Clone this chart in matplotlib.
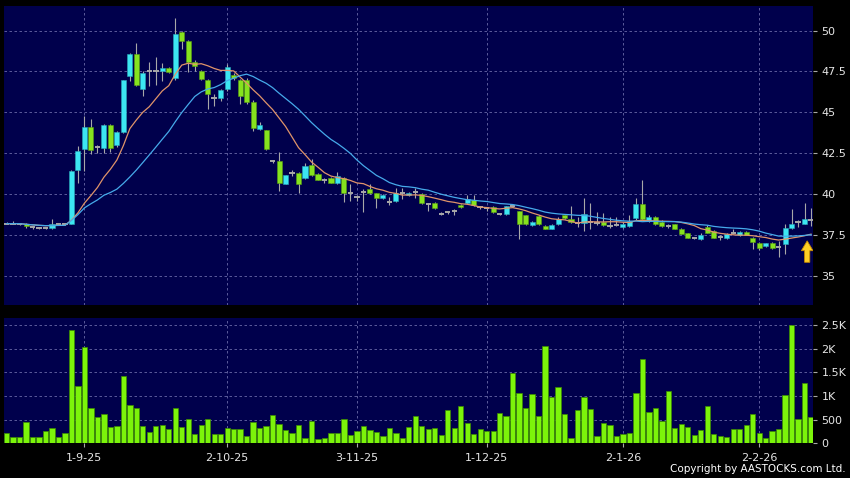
import numpy as np
import pandas as pd
import matplotlib
matplotlib.use('Agg')
import matplotlib.pyplot as plt

# daily OHLC (HKD)
opens = [38.2, 38.2, 38.2, 38.2, 38.0, 37.95, 37.95, 37.95, 38.15, 38.15,
         38.2, 41.5, 42.75, 44.1, 42.9, 42.85, 44.25, 43.0, 43.8, 47.2,
         48.55, 46.45, 47.5, 47.55, 47.5, 47.7, 47.1, 49.9, 49.35, 48.1,
         47.5, 47.0, 45.85, 45.85, 46.4, 47.3, 47.0, 47.0, 45.65, 44.0,
         43.9, 42.05, 42.05, 40.65, 41.3, 41.3, 41.0, 41.8, 41.25, 40.85,
         41.0, 40.7, 41.0, 40.05, 39.8, 40.15, 40.3, 40.05, 39.75, 39.55,
         39.6, 40.05, 39.95, 40.15, 40.0, 39.4, 39.45, 38.8, 38.9, 39.0,
         39.35, 39.45, 39.65, 39.2, 39.15, 39.2, 38.8, 38.8, 39.25, 38.95,
         38.7, 38.1, 38.65, 38.05, 37.9, 38.15, 38.7, 38.5, 38.25, 38.25,
         38.3, 38.25, 38.3, 38.05, 38.1, 38.0, 38.05, 38.55, 39.4, 38.35,
         38.6, 38.3, 38.05, 38.15, 37.9, 37.6, 37.3, 37.25, 38.0, 37.75,
         37.4, 37.3, 37.65, 37.5, 37.7, 37.35, 37.0, 36.85, 37.0, 36.75,
         36.95, 37.95, 38.3, 38.2, 38.45]
highs = [38.3, 38.35, 38.25, 38.25, 38.05, 38.0, 38.0, 38.5, 38.2, 38.2,
         41.45, 42.95, 44.8, 44.6, 43.0, 44.3, 44.3, 43.85, 47.0, 48.6,
         49.25, 47.5, 48.1, 48.4, 48.0, 47.8, 50.75, 50.0, 49.4, 48.2,
         47.6, 47.05, 46.1, 46.45, 47.95, 47.4, 47.05, 47.1, 45.75, 44.4,
         43.95, 42.1, 42.55, 41.2, 41.45, 41.35, 41.9, 42.15, 41.3, 41.0,
         41.05, 41.35, 41.05, 40.6, 39.95, 40.3, 40.6, 40.1, 40.0, 39.85,
         40.4, 40.4, 40.15, 40.35, 40.05, 39.45, 39.5, 38.9, 39.0, 39.1,
         39.4, 39.95, 39.95, 39.3, 39.2, 39.25, 38.85, 39.3, 39.35, 39.0,
         38.75, 38.35, 38.7, 38.1, 38.15, 38.6, 38.75, 39.3, 38.6, 39.75,
         39.45, 38.9, 38.85, 38.6, 38.6, 38.3, 38.7, 39.75, 40.85, 38.7,
         38.65, 38.4, 38.2, 38.2, 37.95, 37.65, 37.4, 37.6, 38.1, 37.8,
         37.5, 37.6, 37.85, 37.75, 37.75, 37.4, 37.05, 37.0, 37.1, 37.15,
         38.2, 39.1, 38.4, 39.45, 39.15]
lows = [38.15, 38.15, 38.1, 37.95, 37.9, 37.85, 37.85, 37.9, 38.1, 38.1,
        38.15, 40.7, 41.4, 42.45, 42.5, 42.5, 42.55, 42.9, 43.75, 46.9,
        46.6, 46.0, 46.6, 46.65, 46.9, 47.4, 47.0, 48.85, 47.45, 47.5,
        47.0, 45.2, 45.4, 45.7, 46.3, 47.0, 45.5, 45.5, 43.85, 43.95,
        42.7, 41.9, 40.2, 40.6, 41.1, 40.05, 40.95, 41.1, 40.85, 40.7,
        40.7, 40.65, 39.5, 39.6, 39.6, 38.9, 40.0, 39.15, 39.7, 39.35,
        39.55, 39.7, 39.9, 39.75, 39.4, 38.95, 39.1, 38.7, 38.8, 38.7,
        39.15, 39.4, 39.3, 39.1, 39.0, 38.85, 38.7, 38.75, 39.2, 37.25,
        38.1, 38.05, 38.1, 37.85, 37.85, 38.1, 38.5, 38.25, 38.0, 37.75,
        37.85, 38.1, 38.05, 37.95, 38.05, 37.95, 38.0, 38.45, 38.45, 38.3,
        38.1, 38.0, 37.95, 37.85, 37.55, 37.35, 37.25, 37.2, 37.65, 37.3,
        37.2, 37.25, 37.55, 37.45, 37.5, 36.65, 36.6, 36.8, 36.65, 36.15,
        36.35, 37.9, 38.0, 38.15, 38.05]
closes = [38.2, 38.2, 38.2, 38.05, 38.0, 37.95, 37.95, 38.15, 38.15, 38.15,
          41.4, 42.65, 44.1, 42.7, 42.9, 44.25, 42.8, 43.8, 46.95, 48.55,
          46.65, 47.4, 47.5, 47.55, 47.7, 47.45, 49.8, 49.35, 48.1, 47.85,
          47.05, 46.15, 45.85, 46.35, 47.75, 47.1, 46.0, 45.65, 44.05, 44.2,
          42.75, 42.05, 40.7, 41.15, 41.3, 40.6, 41.75, 41.15, 40.85, 40.85,
          40.7, 41.1, 40.05, 40.05, 39.8, 40.15, 40.05, 39.75, 39.95, 39.55,
          40.05, 40.05, 40.1, 40.15, 39.45, 39.4, 39.15, 38.8, 38.9, 39.0,
          39.2, 39.7, 39.35, 39.2, 39.15, 38.9, 38.8, 39.25, 39.25, 38.2,
          38.15, 38.3, 38.15, 37.9, 38.1, 38.5, 38.55, 38.3, 38.25, 38.8,
          38.3, 38.25, 38.1, 38.05, 38.1, 38.2, 38.35, 39.4, 38.5, 38.6,
          38.15, 38.05, 38.05, 37.9, 37.55, 37.35, 37.3, 37.5, 37.65, 37.35,
          37.4, 37.55, 37.65, 37.7, 37.5, 37.05, 36.7, 37.0, 36.7, 36.75,
          37.95, 38.2, 38.3, 38.5, 38.45]
# volume in thousands of shares
volumes = [232, 127, 127, 457, 134, 134, 267, 324, 134, 211,
           2394, 1211, 2028, 753, 549, 626, 338, 359, 1416, 803,
           753, 366, 239, 359, 380, 309, 740, 344, 507, 203,
           380, 514, 203, 203, 331, 303, 296, 165, 457, 317,
           366, 612, 408, 281, 225, 387, 120, 471, 94, 120,
           211, 218, 514, 176, 267, 366, 289, 239, 165, 331,
           232, 106, 352, 570, 366, 303, 317, 176, 704, 317,
           795, 443, 197, 303, 267, 254, 640, 577, 1486, 1063,
           753, 1035, 570, 2056, 985, 1183, 620, 113, 704, 979,
           725, 148, 443, 394, 155, 197, 232, 1056, 1788, 662,
           760, 478, 1112, 324, 415, 352, 176, 289, 789, 190,
           155, 134, 296, 309, 380, 620, 211, 120, 267, 296,
           1021, 2500, 507, 1274, 549]

date_pos = [12, 34, 54, 74, 95, 116]
date_labels = ['1-9-25', '2-10-25', '3-11-25', '1-12-25', '2-1-26', '2-2-26']
price_ticks = [35, 37.5, 40, 42.5, 45, 47.5, 50]
price_labels = ['35', '37.5', '40', '42.5', '45', '47.5', '50']
vol_ticks = [0, 500, 1000, 1500, 2000, 2500]
vol_labels = ['0', '500', '1K', '1.5K', '2K', '2.5K']

BG = '#00004c'
UP = '#3ce6f2'
DOWN = '#86e21e'
GRAY = '#a8a8a8'
GRID = '#6a6aa8'
TXT = '#e6e6e6'

o = np.array(opens)
h = np.array(highs)
l = np.array(lows)
c = np.array(closes)
x = np.arange(len(c))

ma10 = pd.Series(c).rolling(10, min_periods=1).mean()
ma20 = pd.Series(c).rolling(20, min_periods=1).mean()

fig = plt.figure(figsize=(8.5, 4.78), dpi=100, facecolor='black')
ax = fig.add_axes([0.0047, 0.3619, 0.9518, 0.6255], facecolor=BG)
axv = fig.add_axes([0.0047, 0.0722, 0.9518, 0.2625], facecolor=BG, sharex=ax)

# candles
ax.vlines(x, l, h, color=GRAY, lw=0.8, zorder=2)
up = c > o
dn = c < o
eq = c == o
bot = np.minimum(o, c)
ht = np.maximum(np.abs(c - o), 0.08)
ax.bar(x[up], ht[up], bottom=bot[up], width=0.78, color=UP,
       edgecolor='#2aa8b8', linewidth=0.4, zorder=3)
ax.bar(x[dn], ht[dn], bottom=bot[dn], width=0.78, color=DOWN,
       edgecolor='#5aa010', linewidth=0.4, zorder=3)
ax.hlines(c[eq], x[eq] - 0.42, x[eq] + 0.42, color=GRAY, lw=1.4, zorder=3)

ax.plot(x, ma10, color='#e0946a', lw=0.9, zorder=4)
ax.plot(x, ma20, color='#46aaea', lw=0.9, zorder=4)

# up arrow marker under the last bars
ax.arrow(123.4, 35.84, 0, 1.31, width=0.8, head_width=1.8, head_length=0.6,
         length_includes_head=True, fc='#ffcf24', ec='#c88a00', lw=0.6, zorder=5)

# volume
axv.bar(x, volumes, width=0.82, color='#7cf40a', edgecolor='#3c8c00', linewidth=0.5, zorder=3)

for a in (ax, axv):
    for s in a.spines.values():
        s.set_visible(False)
    a.grid(True, color=GRID, lw=0.6, ls=(0, (3, 3)), zorder=0)
    a.set_axisbelow(True)
    a.yaxis.tick_right()
    a.tick_params(axis='y', colors=GRAY, labelcolor=TXT, labelsize=8, length=3, pad=3, direction='out')
    a.tick_params(axis='x', colors=GRAY, labelcolor=TXT, labelsize=8, length=3, pad=4)

ax.set_xlim(-0.4, 124.3)
ax.set_ylim(33.23, 51.5)
ax.set_yticks(price_ticks)
ax.set_yticklabels(price_labels)
ax.set_xticks(date_pos)
ax.tick_params(axis='x', labelbottom=False, length=0)

axv.set_ylim(0, 2650)
axv.set_yticks(vol_ticks)
axv.set_yticklabels(vol_labels)
axv.set_xticks(date_pos)
axv.set_xticklabels(date_labels)

fig.text(0.995, 0.008, 'Copyright by AASTOCKS.com Ltd.', ha='right', va='bottom',
         color='white', fontsize=7.5)

fig.savefig('out.png', dpi=100, facecolor='black')
